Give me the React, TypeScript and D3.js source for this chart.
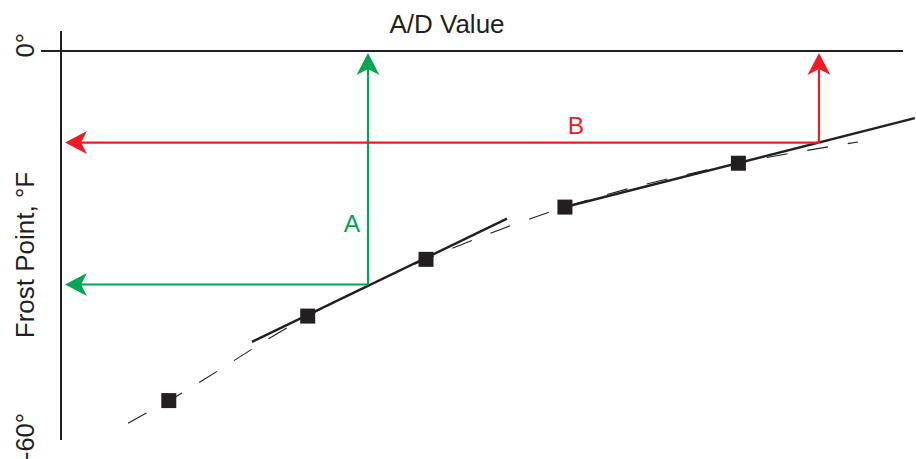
import React from "react";
import * as d3 from "d3";

// A/D value (arbitrary 0-100 scale) vs Frost Point (°F)
const pointAD = [12.8, 29.3, 43.35, 59.85, 80.45];
const pointFP = [-54.2, -41.1, -32.3, -24.2, -17.4];

// dashed calibration curve (read through the points)
const curveAD = [7.96, 12.8, 29.3, 43.35, 59.85, 80.45, 94.66];
const curveFP = [-57.7, -54.2, -41.1, -32.3, -24.2, -17.4, -14.1];

// solid linear segments
const seg1AD = [22.68, 52.97];
const seg1FP = [-45.1, -26.0];
const seg2AD = [59.5, 101.4];
const seg2FP = [-24.3, -10.4];

// reading examples
const readA = { ad: 36.46, fp: -36.2, label: "A" };
const readB = { ad: 90.02, fp: -14.2, label: "B" };

const yTickLabels = ["0°", "-60°"];
const xTitle = "A/D Value";
const yTitle = "Frost Point, °F";

const W = 916;
const H = 459;
const BLACK = "#231f20";
const RED = "#ed1c24";
const GREEN = "#00a651";
const FONT = "'Liberation Sans', Arial, sans-serif";

const x = d3.scaleLinear().domain([0, 100]).range([61, 903]);
const y = d3.scaleLinear().domain([0, -60]).range([51, 438]);

const lineGen = d3
  .line<[number, number]>()
  .x((d) => x(d[0]))
  .y((d) => y(d[1]));

const curveGen = d3
  .line<[number, number]>()
  .x((d) => x(d[0]))
  .y((d) => y(d[1]))
  .curve(d3.curveMonotoneX);

function arrowHead(tx: number, ty: number, angle: number, color: string) {
  const p = "M0,0 L22,-11.5 L16,0 L22,11.5 Z";
  return <path d={p} fill={color} transform={`translate(${tx},${ty}) rotate(${angle})`} />;
}

function Reading({ r, color, labelPos }: { r: { ad: number; fp: number; label: string }; color: string; labelPos: [number, number] }) {
  const cx = x(r.ad);
  const cy = y(r.fp);
  const leftTip = x(0) + 4;
  const topTip = y(0) + 2;
  return (
    <g>
      <line x1={cx} y1={cy} x2={leftTip + 14} y2={cy} stroke={color} strokeWidth={2.2} />
      <line x1={cx} y1={cy} x2={cx} y2={topTip + 14} stroke={color} strokeWidth={2.2} />
      {arrowHead(leftTip, cy, 0, color)}
      {arrowHead(cx, topTip, 90, color)}
      <text x={labelPos[0]} y={labelPos[1]} fill={color} fontSize={24.5} textAnchor="middle" fontFamily={FONT}>
        {r.label}
      </text>
    </g>
  );
}

export default function App() {
  const curvePts: [number, number][] = curveAD.map((a, i) => [a, curveFP[i]]);
  const s1: [number, number][] = seg1AD.map((a, i) => [a, seg1FP[i]]);
  const s2: [number, number][] = seg2AD.map((a, i) => [a, seg2FP[i]]);
  const sq = 15;
  return (
    <svg
      width={W}
      height={H}
      viewBox={`0 0 ${W} ${H}`}
      style={{ position: "absolute", left: 0, top: 0, background: "#fff" }}
    >
      <rect width={W} height={H} fill="#fff" />
      {/* axes */}
      <line x1={x(0) - 20} y1={y(0)} x2={x(100)} y2={y(0)} stroke={BLACK} strokeWidth={2} />
      <line x1={x(0)} y1={y(0) - 20} x2={x(0)} y2={y(-60) + 2} stroke={BLACK} strokeWidth={2} />

      {/* titles */}
      <text x={447} y={33} fontSize={26} textAnchor="middle" fill={BLACK} fontFamily={FONT}>
        {xTitle}
      </text>
      <text
        transform={`translate(33.5, 255) rotate(-90)`}
        fontSize={26}
        textAnchor="middle"
        fill={BLACK}
        fontFamily={FONT}
      >
        {yTitle}
      </text>
      <text transform={`translate(33.5, ${y(0) - 18}) rotate(-90)`} fontSize={25.5} textAnchor="end" fill={BLACK} fontFamily={FONT}>
        {yTickLabels[0]}
      </text>
      <text transform={`translate(33.5, ${y(-60) - 25}) rotate(-90)`} fontSize={25.5} textAnchor="end" fill={BLACK} fontFamily={FONT}>
        {yTickLabels[1]}
      </text>

      {/* dashed calibration curve */}
      <path d={curveGen(curvePts) || ""} fill="none" stroke={BLACK} strokeWidth={1.1} strokeDasharray="21 20" />
      {/* solid segments */}
      <path d={lineGen(s1) || ""} fill="none" stroke={BLACK} strokeWidth={2.4} />
      <path d={lineGen(s2) || ""} fill="none" stroke={BLACK} strokeWidth={2.4} />

      {/* readings */}
      <Reading r={readA} color={GREEN} labelPos={[352, 232]} />
      <Reading r={readB} color={RED} labelPos={[576, 134]} />

      {/* points */}
      {pointAD.map((a, i) => (
        <rect key={i} x={x(a) - sq / 2} y={y(pointFP[i]) - sq / 2} width={sq} height={sq} fill={BLACK} />
      ))}
    </svg>
  );
}
